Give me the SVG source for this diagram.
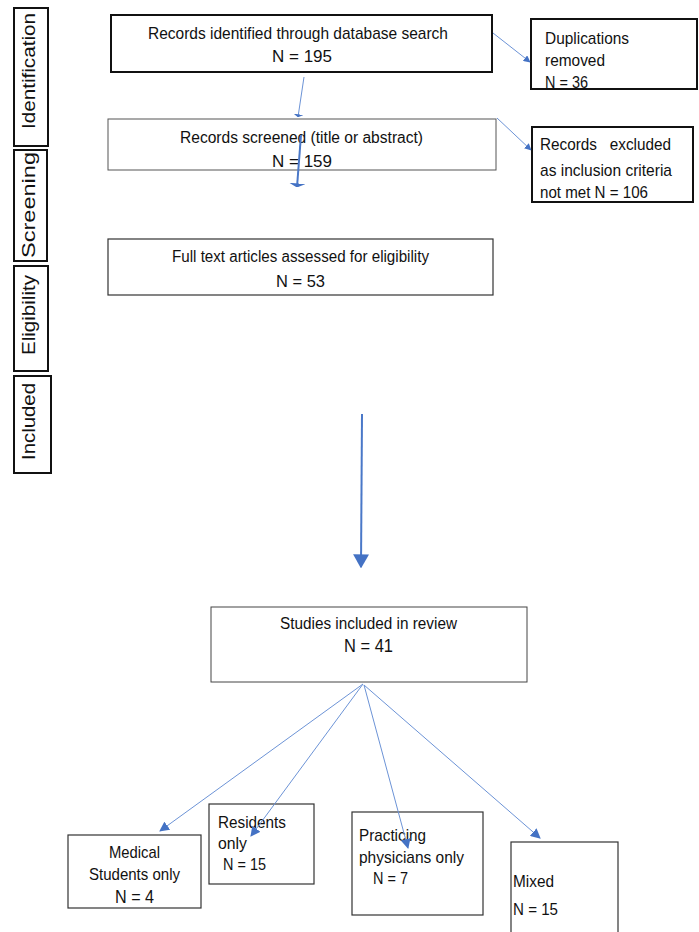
<svg xmlns="http://www.w3.org/2000/svg" width="699" height="932" viewBox="0 0 699 932">
<defs>
<style>
.t{font-family:"Liberation Sans Narrow","Liberation Sans",Arial,sans-serif;fill:#111;}
.s{font-family:"Liberation Sans",Arial,sans-serif;fill:#111;font-size:18px;}
.bx{fill:#fff;stroke:#333;stroke-width:1.2;}
.bk{fill:#fff;stroke:#111;stroke-width:2;}
.ln{fill:none;stroke:#6c93d6;stroke-width:1;}
.lt{fill:none;stroke:#4a78c8;stroke-width:2;}
</style>
<marker id="ah" viewBox="0 0 10 10" refX="9" refY="5" markerWidth="10" markerHeight="10" markerUnits="userSpaceOnUse" orient="auto">
<path d="M0,0 L10,5 L0,10 Z" fill="#4472C4"/>
</marker>
<marker id="ahs" viewBox="0 0 10 10" refX="9" refY="5" markerWidth="7" markerHeight="7" markerUnits="userSpaceOnUse" orient="auto">
<path d="M0,0 L10,5 L0,10 Z" fill="#4472C4"/>
</marker>
<marker id="ahf" viewBox="0 0 10 10" refX="9" refY="5" markerWidth="4" markerHeight="16" markerUnits="userSpaceOnUse" orient="auto" preserveAspectRatio="none">
<path d="M0,0 L10,5 L0,10 Z" fill="#4472C4"/>
</marker>
<marker id="ahfs" viewBox="0 0 10 10" refX="9" refY="5" markerWidth="3" markerHeight="10" markerUnits="userSpaceOnUse" orient="auto" preserveAspectRatio="none">
<path d="M0,0 L10,5 L0,10 Z" fill="#4472C4"/>
</marker>
<marker id="ahb" viewBox="0 0 10 10" refX="9" refY="5" markerWidth="14" markerHeight="16" markerUnits="userSpaceOnUse" orient="auto" preserveAspectRatio="none">
<path d="M0,0 L10,5 L0,10 Z" fill="#4472C4"/>
</marker>
</defs>
<rect width="699" height="932" fill="#fff"/>

<g id="stages">
<g id="stage-identification"><rect x="14" y="8" width="34" height="138" class="bk" stroke-width="1.8"/><text class="s" transform="translate(35,129) rotate(-90)" textLength="116" lengthAdjust="spacingAndGlyphs">Identification</text></g>
<g id="stage-screening"><rect x="14" y="150" width="33" height="111" class="bk" stroke-width="1.8"/><text class="s" transform="translate(35,258) rotate(-90)" textLength="106" lengthAdjust="spacingAndGlyphs">Screening</text></g>
<g id="stage-eligibility"><rect x="14" y="266" width="34" height="105" class="bk" stroke-width="1.8"/><text class="s" transform="translate(35,355) rotate(-90)" textLength="80" lengthAdjust="spacingAndGlyphs">Eligibility</text></g>
<g id="stage-included"><rect x="14" y="376" width="37" height="97" class="bk" stroke-width="1.8"/><text class="s" transform="translate(35,460) rotate(-90)" textLength="77" lengthAdjust="spacingAndGlyphs">Included</text></g>
</g>

<g id="n-identified"><rect x="111" y="15" width="381" height="57" class="bk"/>
<text class="t" font-size="17" x="148" y="39" textLength="300" lengthAdjust="spacingAndGlyphs">Records identified through database search</text>
<text class="t" font-size="17" x="272" y="62" textLength="60" lengthAdjust="spacingAndGlyphs">N = 195</text></g>

<g id="n-screened"><rect x="108" y="119" width="388" height="51" fill="#fff" stroke="#555" stroke-width="1"/>
<text class="t" font-size="16" x="180" y="143" textLength="243" lengthAdjust="spacingAndGlyphs">Records screened (title or abstract)</text>
<text class="t" font-size="17" x="272" y="167" textLength="60" lengthAdjust="spacingAndGlyphs">N = 159</text></g>

<g id="n-duplications"><rect x="531" y="19" width="166" height="70" class="bk" stroke-width="1.6"/>
<text class="t" font-size="17" x="545" y="44" textLength="84" lengthAdjust="spacingAndGlyphs">Duplications</text>
<text class="t" font-size="17" x="545" y="66" textLength="60" lengthAdjust="spacingAndGlyphs">removed</text>
<text class="t" font-size="17" x="545" y="88" textLength="43" lengthAdjust="spacingAndGlyphs">N = 36</text></g>

<g id="n-excluded"><rect x="532" y="127" width="161" height="75" class="bk" stroke-width="1.6"/>
<text class="t" font-size="17" x="540" y="150" textLength="131" lengthAdjust="spacingAndGlyphs" style="white-space:pre">Records   excluded</text>
<text class="t" font-size="17" x="540" y="176" textLength="132" lengthAdjust="spacingAndGlyphs">as inclusion criteria</text>
<text class="t" font-size="17" x="540" y="198" textLength="108" lengthAdjust="spacingAndGlyphs">not met N = 106</text></g>

<g id="n-fulltext"><rect x="108" y="239" width="385" height="56" class="bx"/>
<text class="t" font-size="16" x="172" y="262" textLength="257" lengthAdjust="spacingAndGlyphs">Full text articles assessed for eligibility</text>
<text class="t" font-size="17" x="276" y="287" textLength="49" lengthAdjust="spacingAndGlyphs">N = 53</text></g>

<g id="n-studies"><rect x="211" y="607" width="316" height="75" fill="#fff" stroke="#444" stroke-width="1"/>
<text class="t" font-size="16" x="280" y="629" textLength="177" lengthAdjust="spacingAndGlyphs">Studies included in review</text>
<text class="t" font-size="18" x="344" y="652" textLength="49" lengthAdjust="spacingAndGlyphs">N = 41</text></g>

<g id="n-medical"><rect x="68" y="835" width="133" height="73" class="bx"/>
<text class="t" font-size="17" x="109" y="858" textLength="51" lengthAdjust="spacingAndGlyphs">Medical</text>
<text class="t" font-size="17" x="89" y="880" textLength="91" lengthAdjust="spacingAndGlyphs">Students only</text>
<text class="t" font-size="18" x="115" y="903" textLength="39" lengthAdjust="spacingAndGlyphs">N = 4</text></g>

<g id="n-residents"><rect x="209" y="804" width="105" height="80" class="bx"/>
<text class="t" font-size="17" x="218" y="828" textLength="68" lengthAdjust="spacingAndGlyphs">Residents</text>
<text class="t" font-size="17" x="218" y="849" textLength="29" lengthAdjust="spacingAndGlyphs">only</text>
<text class="t" font-size="17" x="223" y="870" textLength="43" lengthAdjust="spacingAndGlyphs">N = 15</text></g>

<g id="n-practicing"><rect x="352" y="812" width="131" height="103" class="bx"/>
<text class="t" font-size="17" x="359" y="841" textLength="67" lengthAdjust="spacingAndGlyphs">Practicing</text>
<text class="t" font-size="17" x="359" y="863" textLength="105" lengthAdjust="spacingAndGlyphs">physicians only</text>
<text class="t" font-size="17" x="373" y="884" textLength="35" lengthAdjust="spacingAndGlyphs">N = 7</text></g>

<g id="n-mixed"><rect x="511" y="842" width="107" height="100" class="bx"/>
<text class="t" font-size="17" x="513" y="887" textLength="41" lengthAdjust="spacingAndGlyphs">Mixed</text>
<text class="t" font-size="17" x="513" y="915" textLength="45" lengthAdjust="spacingAndGlyphs">N = 15</text></g>

<g id="connectors">
<line x1="304" y1="77" x2="298" y2="117" class="ln" marker-end="url(#ahfs)"/>
<line x1="301" y1="135" x2="297" y2="187" class="lt" marker-end="url(#ahf)"/>
<line x1="493" y1="33" x2="530" y2="62" class="ln" marker-end="url(#ahs)"/>
<line x1="497" y1="118" x2="531" y2="150" class="ln" marker-end="url(#ahs)"/>
<line x1="362" y1="414" x2="361" y2="567" class="lt" marker-end="url(#ahb)"/>
<line x1="363" y1="684" x2="160" y2="831" class="ln" marker-end="url(#ah)"/>
<line x1="363" y1="684" x2="251" y2="836" class="ln" marker-end="url(#ah)"/>
<line x1="364" y1="685" x2="408" y2="848" class="ln" marker-end="url(#ah)"/>
<line x1="364" y1="685" x2="540" y2="838" class="ln" marker-end="url(#ah)"/>
</g>
</svg>
